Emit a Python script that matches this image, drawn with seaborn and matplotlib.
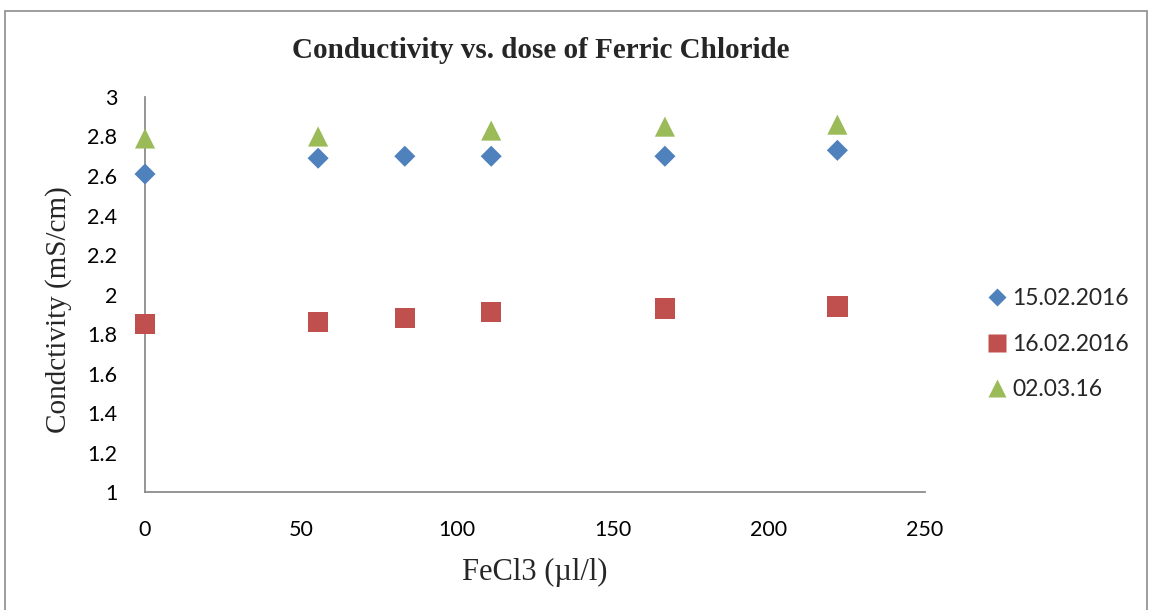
import matplotlib
matplotlib.use("Agg")
import matplotlib.pyplot as plt
import seaborn as sns
import pandas as pd
from matplotlib.patches import Rectangle
from matplotlib.lines import Line2D

# ---- data ----
series_names = ["15.02.2016", "16.02.2016", "02.03.16"]
dose_a = [0, 55.5, 83.3, 111, 166.7, 222]
cond_a = [2.61, 2.69, 2.70, 2.70, 2.70, 2.73]
dose_b = [0, 55.5, 83.3, 111, 166.7, 222]
cond_b = [1.85, 1.86, 1.88, 1.91, 1.93, 1.94]
dose_c = [0, 55.5, 111, 166.7, 222]
cond_c = [2.79, 2.80, 2.83, 2.85, 2.86]

title = "Conductivity vs. dose of Ferric Chloride"
xlabel = "FeCl3 (µl/l)"
ylabel = "Condctivity (mS/cm)"
xticks = [0, 50, 100, 150, 200, 250]
yticks = [1, 1.2, 1.4, 1.6, 1.8, 2, 2.2, 2.4, 2.6, 2.8, 3]
ytick_labels = ["1", "1.2", "1.4", "1.6", "1.8", "2", "2.2", "2.4", "2.6", "2.8", "3"]

colors = {"15.02.2016": "#4F81BD", "16.02.2016": "#C0504D", "02.03.16": "#9BBB59"}
markers = {"15.02.2016": "D", "16.02.2016": "s", "02.03.16": "^"}
msize = {"15.02.2016": 115, "16.02.2016": 215, "02.03.16": 210}

df = pd.concat([
    pd.DataFrame({"dose": dose_a, "cond": cond_a, "series": series_names[0]}),
    pd.DataFrame({"dose": dose_b, "cond": cond_b, "series": series_names[1]}),
    pd.DataFrame({"dose": dose_c, "cond": cond_c, "series": series_names[2]}),
], ignore_index=True)

sns.set_style("white")
plt.rcParams["font.family"] = ["Lato", "DejaVu Sans"]

fig = plt.figure(figsize=(11.5, 6.1), dpi=100)
ax = fig.add_axes([0.1261, 0.1934, 0.678, 0.6476])

for name in series_names:
    sub = df[df["series"] == name]
    sns.scatterplot(data=sub, x="dose", y="cond", ax=ax, color=colors[name],
                    marker=markers[name], s=msize[name], edgecolor="none",
                    linewidth=0, legend=False, zorder=3, clip_on=False)

ax.set_xlim(0, 250)
ax.set_ylim(1, 3)
ax.set_xticks(xticks)
ax.set_yticks(yticks)
ax.set_yticklabels(ytick_labels)
ax.tick_params(axis="both", length=0, labelsize=15.5, colors="black")
ax.tick_params(axis="y", pad=20)
ax.tick_params(axis="x", pad=20)

for s in ["top", "right"]:
    ax.spines[s].set_visible(False)
for s in ["left", "bottom"]:
    ax.spines[s].set_color("#8c8c8c")
    ax.spines[s].set_linewidth(1.3)

serif = ["Liberation Serif", "DejaVu Serif"]
ax.set_xlabel(xlabel, fontsize=22, family=serif, labelpad=13)
ax.set_ylabel(ylabel, fontsize=21, family=serif)
ax.yaxis.set_label_coords(-0.094, 0.461)
fig.text(0.47, 0.918, title, fontsize=21, fontweight="bold", family=serif,
         ha="center", va="center")

handles = [Line2D([0], [0], marker=markers[n], color="none", markerfacecolor=colors[n],
                  markeredgecolor="none", markersize=(msize[n] ** 0.5) * 0.85, label=n)
           for n in series_names]
leg = fig.legend(handles=handles, loc="center left", bbox_to_anchor=(0.853, 0.436),
                 frameon=False, fontsize=16.5, handlelength=0.6, handletextpad=0.35,
                 labelspacing=1.08, borderaxespad=0)

# outer chart frame
fig.patches.append(Rectangle((5 / 1150, -0.05), 1142 / 1150, 1.05 - 11 / 610,
                             transform=fig.transFigure, fill=False,
                             edgecolor="#8c8c8c", linewidth=1.2))

fig.savefig("out.png", dpi=100)
